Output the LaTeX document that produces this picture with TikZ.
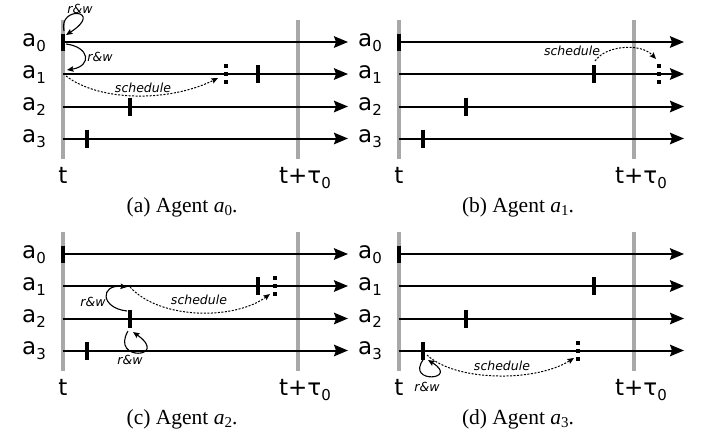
\documentclass[tikz,border=0pt]{standalone}
\usepackage{fontspec}
\setmainfont{Liberation Serif}
\newfontfamily\labfont{DejaVu Sans}
\usetikzlibrary{arrows.meta}
\definecolor{glc}{RGB}{168,168,168}
\newcommand\lsub[1]{\raisebox{-5pt}{\fontsize{15}{15}\selectfont #1}}
\newcommand\csub[1]{\raisebox{-3.5pt}{\fontsize{15}{15}\selectfont #1}}
\newcommand\panelbase[2]{%
  \coordinate (gt) at (63,20); \coordinate (gb) at (63,159);
  \coordinate (Gt) at (298,20); \coordinate (Gb) at (298,159);
  \draw[grayline] (gt) -- (gb);
  \draw[grayline] (Gt) -- (Gb);
  \foreach \i/\y in {0/42,1/74,2/106.5,3/138.5}{%
    \coordinate (s\i) at (63,\y); \coordinate (e\i) at (348,\y);
    \draw[timeline] (s\i) -- (e\i);
    \node[lbl,anchor=base east] (lab\i) at (46,\y+4) {a\lsub{\i}};
  }
  \coordinate (k0t) at (63,33.5); \coordinate (k0b) at (63,50.5);
  \coordinate (k1t) at (258,65);  \coordinate (k1b) at (258,83);
  \coordinate (k2t) at (130,97.5); \coordinate (k2b) at (130,115.5);
  \coordinate (k3t) at (87,129.5); \coordinate (k3b) at (87,147.5);
  \foreach \i in {0,1,2,3}{\draw[tickbar] (k\i t) -- (k\i b);}
  \node[lbl,anchor=base] (tl) at (63,183) {t};
  \node[lbl,anchor=base] (ttau) at (305,183) {t+τ\lsub{0}};
  \node[capt,anchor=base] (cap) at (182,212) {(#1) Agent \textit{a}\csub{#2}.};
}
\begin{document}
\begin{tikzpicture}[x=1pt,y=-1pt,
  grayline/.style={draw=glc,line width=4.5pt},
  timeline/.style={draw=black,line width=2pt,-{Stealth[length=14pt,width=11.5pt,inset=2pt]}},
  tickbar/.style={draw=black,line width=4.5pt},
  dotbar/.style={draw=black,line width=4.5pt,dash pattern=on 4pt off 4pt},
  rwarrow/.style={draw=black,line width=1.1pt,-{Stealth[length=6.5pt,width=5.5pt,inset=1pt]}},
  schedarrow/.style={draw=black,line width=1pt,dash pattern=on 2pt off 1.5pt,-{Stealth[length=6.5pt,width=5.5pt,inset=1pt]}},
  lbl/.style={font=\labfont\fontsize{23}{23}\selectfont,inner sep=0pt},
  small/.style={font=\labfont\itshape\fontsize{12.5}{12.5}\selectfont,inner sep=1pt},
  capt/.style={font=\fontsize{21.5}{21.5}\selectfont,inner sep=0pt}]
\useasboundingbox (0,0) rectangle (703,434);

% ---------- panel (a)
\begin{scope}[name prefix=pa-]
  \panelbase{a}{0}
  \coordinate (d1t) at (226,64); \coordinate (d1b) at (226,84);
  \draw[dotbar] (d1t) -- (d1b);
  \coordinate (rw1s) at (64,31); \coordinate (rw1e) at (66,35);
  \draw[rwarrow] (rw1s) .. controls (58,5) and (105,10) .. (rw1e);
  \node[small] (rw1) at (80,9) {r\&w};
  \coordinate (rw2s) at (66,44); \coordinate (rw2e) at (67,70);
  \draw[rwarrow] (rw2s) .. controls (90,47) and (92,66) .. (rw2e);
  \node[small] (rw2) at (100,57) {r\&w};
  \coordinate (scs) at (66,76); \coordinate (sce) at (218,78);
  \draw[schedarrow] (scs) .. controls (100,102) and (170,102) .. (sce);
  \node[small] (sc) at (143,88) {schedule};
\end{scope}

% ---------- panel (b)
\begin{scope}[shift={(336,0)},name prefix=pb-]
  \panelbase{b}{1}
  \coordinate (d1t) at (323,64); \coordinate (d1b) at (323,84);
  \draw[dotbar] (d1t) -- (d1b);
  \coordinate (scs) at (259,61); \coordinate (sce) at (320,59);
  \draw[schedarrow] (scs) .. controls (270,45) and (305,43) .. (sce);
  \node[small] (sc) at (236,51) {schedule};
\end{scope}

% ---------- panel (c)
\begin{scope}[shift={(0,212)},name prefix=pc-]
  \panelbase{c}{2}
  \coordinate (d1t) at (275,64); \coordinate (d1b) at (275,84);
  \draw[dotbar] (d1t) -- (d1b);
  \coordinate (scs) at (130,75); \coordinate (sce) at (270,82);
  \draw[schedarrow] (scs) .. controls (160,108) and (235,108) .. (sce);
  \node[small] (sc) at (199,88) {schedule};
  \coordinate (rw1s) at (127,99); \coordinate (rw1e) at (127,75);
  \draw[rwarrow] (rw1s) .. controls (100,96) and (100,72) .. (rw1e);
  \node[small] (rw1) at (93,90) {r\&w};
  \coordinate (rw2s) at (128,119); \coordinate (rw2e) at (133,120);
  \draw[rwarrow] (rw2s) .. controls (110,150) and (170,146) .. (rw2e);
  \node[small] (rw2) at (130,148) {r\&w};
\end{scope}

% ---------- panel (d)
\begin{scope}[shift={(336,212)},name prefix=pd-]
  \panelbase{d}{3}
  \coordinate (d3t) at (242,129); \coordinate (d3b) at (242,149);
  \draw[dotbar] (d3t) -- (d3b);
  \coordinate (scs) at (91,143); \coordinate (sce) at (238,146);
  \draw[schedarrow] (scs) .. controls (120,170) and (200,170) .. (sce);
  \node[small] (sc) at (166,154) {schedule};
  \coordinate (rws) at (87,148); \coordinate (rwe) at (92,148);
  \draw[rwarrow] (rws) .. controls (70,172) and (124,168) .. (rwe);
  \node[small] (rw) at (91,175) {r\&w};
\end{scope}
\end{tikzpicture}
\end{document}
